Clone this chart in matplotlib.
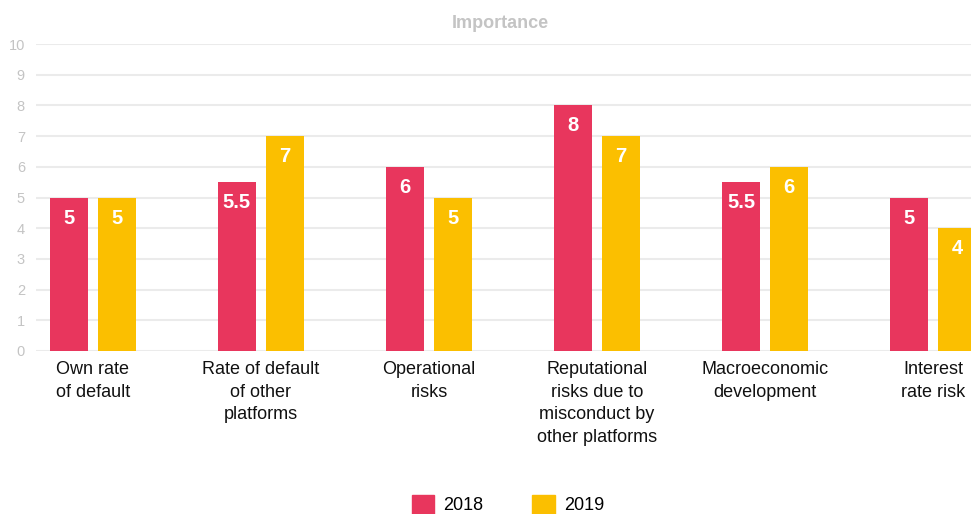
import numpy as np
import matplotlib.pyplot as plt
from matplotlib.patches import Patch

plt.rcParams['font.family'] = ['Liberation Sans', 'DejaVu Sans']

categories = ['Own rate\nof default', 'Rate of default\nof other\nplatforms', 'Operational\nrisks',
              'Reputational\nrisks due to\nmisconduct by\nother platforms', 'Macroeconomic\ndevelopment',
              'Interest\nrate risk']
years = ['2018', '2019']
vals_2018 = [5, 5.5, 6, 8, 5.5, 5]
vals_2019 = [5, 7, 5, 7, 6, 4]

red = '#e8365d'
yellow = '#fbbf00'

fig = plt.figure(figsize=(9.71, 5.14), dpi=100)
ax = fig.add_axes([36 / 971, 163 / 514, 1 - 36 / 971, 307 / 514])

x = np.arange(len(categories))
w = 0.226
off = 0.143
b1 = ax.bar(x - off, vals_2018, w, color=red, zorder=3)
b2 = ax.bar(x + off, vals_2019, w, color=yellow, zorder=3)

for bars, vals in ((b1, vals_2018), (b2, vals_2019)):
    for b, v in zip(bars, vals):
        ax.annotate(f'{v:g}', (b.get_x() + b.get_width() / 2, v), xytext=(0, -11),
                    textcoords='offset pixels', ha='center', va='top',
                    color='white', fontsize=14.5, fontweight='bold', zorder=4)

ax.set_xlim(-0.339, 5.226)
ax.set_ylim(0, 10)
ax.set_yticks(range(0, 11))
ax.set_xticks(x)
ax.set_xticklabels(categories, fontsize=13, color='#111111', linespacing=1.42)
ax.tick_params(axis='x', length=0, pad=7.5)
ax.tick_params(axis='y', length=0, pad=8, labelsize=10.5, labelcolor='#c4c4c4')
ax.grid(axis='y', color='#ebebeb', linewidth=1.5, zorder=0)
for s in ax.spines.values():
    s.set_visible(False)

fig.text(500 / 971, 1 - 23 / 514, 'Importance', ha='center', va='center',
         fontsize=13, fontweight='bold', color='#c4c4c4')

handles = [Patch(color=red), Patch(color=yellow)]
fig.legend(handles, years, loc='upper center', bbox_to_anchor=(508 / 971, 19 / 514),
           ncol=2, frameon=False, fontsize=13, handlelength=1.25, handleheight=1.2,
           handletextpad=0.5, columnspacing=2.7, borderpad=0, borderaxespad=0)

fig.savefig('out.png', dpi=100)
